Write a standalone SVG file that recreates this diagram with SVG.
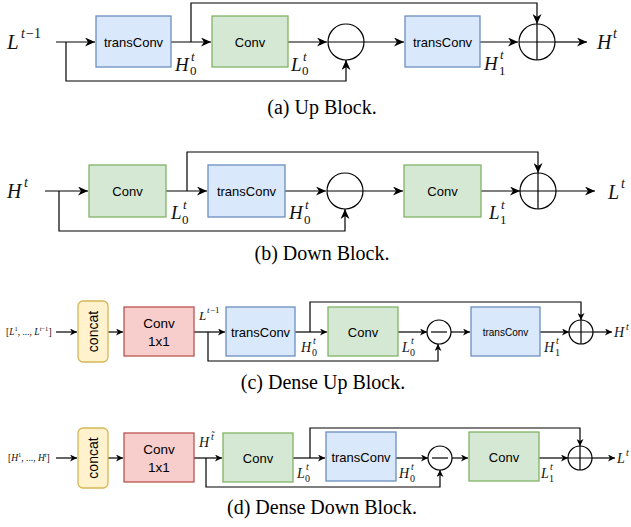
<svg xmlns="http://www.w3.org/2000/svg" width="631" height="527" viewBox="0 0 631 527">
<style>
.bx{stroke-width:1.3}
.blue{fill:#dae8fc;stroke:#6c8ebf}
.green{fill:#d5e8d4;stroke:#82b366}
.red{fill:#f8cecc;stroke:#b85450}
.yellow{fill:#fff2cc;stroke:#d6b656}
.lbl{font-family:"Liberation Sans",Arial,sans-serif;fill:#000;text-anchor:middle}
.m{font-family:"Liberation Serif","Times New Roman",serif;font-style:italic;fill:#111}
.mr{font-family:"Liberation Serif","Times New Roman",serif;fill:#111}
.cap{font-family:"Liberation Serif","Times New Roman",serif;font-size:20px;fill:#000;text-anchor:middle}
.ln{fill:none;stroke:#000;stroke-width:1.2}
.op{fill:#fff;stroke:#000;stroke-width:1.2}
</style>
<defs>
<marker id="a" markerUnits="userSpaceOnUse" markerWidth="11" markerHeight="9" refX="10" refY="4.5" orient="auto">
<path d="M0,0 L10,4.5 L0,9 L3,4.5 z" fill="#000"/>
</marker>
<marker id="s" markerUnits="userSpaceOnUse" markerWidth="8" markerHeight="7" refX="7" refY="3.5" orient="auto">
<path d="M0,0 L7,3.5 L0,7 L2,3.5 z" fill="#000"/>
</marker>
</defs>
<rect width="631" height="527" fill="#fff"/>

<!-- Connectors -->
<g id="connectors">
<!-- (a) -->
<path class="ln" d="M56,42 H95" marker-end="url(#a)"/>
<path class="ln" d="M66,42 V81 H346 V60" marker-end="url(#a)"/>
<path class="ln" d="M171,42 H211" marker-end="url(#a)"/>
<path class="ln" d="M191,42 V3 H537 V24" marker-end="url(#a)"/>
<path class="ln" d="M288,42 H327" marker-end="url(#a)"/>
<path class="ln" d="M364,42 H404" marker-end="url(#a)"/>
<path class="ln" d="M480,42 H518" marker-end="url(#a)"/>
<path class="ln" d="M555,42 H587" marker-end="url(#a)"/>
<!-- (b) -->
<path class="ln" d="M45,191 H88" marker-end="url(#a)"/>
<path class="ln" d="M59,191 V231 H345 V209" marker-end="url(#a)"/>
<path class="ln" d="M166,191 H207" marker-end="url(#a)"/>
<path class="ln" d="M187,191 V152 H538 V173" marker-end="url(#a)"/>
<path class="ln" d="M285,191 H326" marker-end="url(#a)"/>
<path class="ln" d="M363,191 H403" marker-end="url(#a)"/>
<path class="ln" d="M481,191 H520" marker-end="url(#a)"/>
<path class="ln" d="M556,191 H595" marker-end="url(#a)"/>
<!-- (c) -->
<path class="ln" d="M56,332 H77" marker-end="url(#s)"/>
<path class="ln" d="M108,332 H123" marker-end="url(#s)"/>
<path class="ln" d="M194,332 H225" marker-end="url(#s)"/>
<path class="ln" d="M208,332 V361 H438 V344" marker-end="url(#s)"/>
<path class="ln" d="M295,332 H327" marker-end="url(#s)"/>
<path class="ln" d="M310,332 V302 H581 V320" marker-end="url(#s)"/>
<path class="ln" d="M398,332 H427" marker-end="url(#s)"/>
<path class="ln" d="M451,332 H470" marker-end="url(#s)"/>
<path class="ln" d="M540,332 H569" marker-end="url(#s)"/>
<path class="ln" d="M593,332 H612" marker-end="url(#s)"/>
<!-- (d) -->
<path class="ln" d="M56,458 H77" marker-end="url(#s)"/>
<path class="ln" d="M108,458 H123" marker-end="url(#s)"/>
<path class="ln" d="M194,458 H222" marker-end="url(#s)"/>
<path class="ln" d="M206,458 V487 H440 V470" marker-end="url(#s)"/>
<path class="ln" d="M293,458 H325" marker-end="url(#s)"/>
<path class="ln" d="M310,458 V428 H580 V446" marker-end="url(#s)"/>
<path class="ln" d="M396,458 H428" marker-end="url(#s)"/>
<path class="ln" d="M452,458 H468" marker-end="url(#s)"/>
<path class="ln" d="M539,458 H568" marker-end="url(#s)"/>
<path class="ln" d="M592,458 H615" marker-end="url(#s)"/>
</g>

<!-- (a) Up Block nodes -->
<g id="a-transconv1"><rect class="bx blue" x="96" y="16" width="75" height="51"/><text class="lbl" x="133.5" y="46.5" font-size="13">transConv</text></g>
<g id="a-conv"><rect class="bx green" x="212" y="16" width="76" height="51"/><text class="lbl" x="250" y="46.5" font-size="13">Conv</text></g>
<g id="a-minus"><circle class="op" cx="346" cy="42" r="18"/><path class="ln" d="M328,42 H364"/></g>
<g id="a-transconv2"><rect class="bx blue" x="405" y="16" width="75" height="51"/><text class="lbl" x="442.5" y="46.5" font-size="13">transConv</text></g>
<g id="a-plus"><circle class="op" cx="537" cy="42" r="18"/><path class="ln" d="M519,42 H555 M537,24 V60"/></g>
<g id="a-labels">
<text class="m" x="7" y="49" font-size="21">L</text><text class="m" x="21" y="38" font-size="14">t</text><text class="mr" x="26" y="38" font-size="14">−1</text>
<text class="m" x="175" y="71" font-size="19">H</text><text class="m" x="191" y="61" font-size="13">t</text><text class="mr" x="190" y="75" font-size="13">0</text>
<text class="m" x="291" y="71" font-size="19">L</text><text class="m" x="303" y="61" font-size="13">t</text><text class="mr" x="302" y="75" font-size="13">0</text>
<text class="m" x="484" y="70" font-size="19">H</text><text class="m" x="500" y="59" font-size="13">t</text><text class="mr" x="499" y="75" font-size="13">1</text>
<text class="m" x="597" y="49" font-size="20">H</text><text class="m" x="613" y="38" font-size="14">t</text>
</g>
<text class="cap" x="322" y="114">(a) Up Block.</text>

<!-- (b) Down Block nodes -->
<g id="b-conv1"><rect class="bx green" x="89" y="165" width="77" height="52"/><text class="lbl" x="127.5" y="195.5" font-size="13">Conv</text></g>
<g id="b-transconv"><rect class="bx blue" x="208" y="165" width="77" height="52"/><text class="lbl" x="246.5" y="195.5" font-size="13">transConv</text></g>
<g id="b-minus"><circle class="op" cx="345" cy="191" r="18"/><path class="ln" d="M327,191 H363"/></g>
<g id="b-conv2"><rect class="bx green" x="404" y="165" width="77" height="52"/><text class="lbl" x="442.5" y="195.5" font-size="13">Conv</text></g>
<g id="b-plus"><circle class="op" cx="538" cy="191" r="18"/><path class="ln" d="M520,191 H556 M538,173 V209"/></g>
<g id="b-labels">
<text class="m" x="7" y="198" font-size="20">H</text><text class="m" x="24" y="187" font-size="14">t</text>
<text class="m" x="171" y="219" font-size="19">L</text><text class="m" x="183" y="209" font-size="13">t</text><text class="mr" x="182" y="224" font-size="13">0</text>
<text class="m" x="289" y="219" font-size="19">H</text><text class="m" x="305" y="209" font-size="13">t</text><text class="mr" x="304" y="224" font-size="13">0</text>
<text class="m" x="489" y="219" font-size="19">L</text><text class="m" x="501" y="209" font-size="13">t</text><text class="mr" x="500" y="224" font-size="13">1</text>
<text class="m" x="608" y="199" font-size="20">L</text><text class="m" x="621" y="188" font-size="14">t</text>
</g>
<text class="cap" x="322" y="260">(b) Down Block.</text>

<!-- (c) Dense Up Block nodes -->
<g id="c-concat"><rect class="bx yellow" x="78" y="301" width="30" height="61" rx="5"/><text class="lbl" font-size="14" transform="translate(98,331.5) rotate(-90)">concat</text></g>
<g id="c-conv1x1"><rect class="bx red" x="124" y="307" width="70" height="49"/><text class="lbl" x="159" y="328" font-size="13.5">Conv</text><text class="lbl" x="159" y="346" font-size="13.5">1x1</text></g>
<g id="c-transconv1"><rect class="bx blue" x="226" y="307" width="69" height="49"/><text class="lbl" x="260.5" y="336.5" font-size="13">transConv</text></g>
<g id="c-conv"><rect class="bx green" x="328" y="307" width="70" height="49"/><text class="lbl" x="363" y="336.5" font-size="13">Conv</text></g>
<g id="c-minus"><circle class="op" cx="439" cy="332" r="12"/><path class="ln" d="M431,332 H447"/></g>
<g id="c-transconv2"><rect class="bx blue" x="471" y="307" width="69" height="49"/><text class="lbl" x="505.5" y="335.5" font-size="10">transConv</text></g>
<g id="c-plus"><circle class="op" cx="581" cy="332" r="12"/><path class="ln" d="M569,332 H593 M581,320 V344"/></g>
<g id="c-labels">
<text class="mr" x="6" y="335" font-size="9.5">[<tspan class="m">L</tspan><tspan font-size="6.5" dy="-4">1</tspan><tspan dy="4">, ..., </tspan><tspan class="m">L</tspan><tspan font-size="6.5" dy="-4"><tspan class="m">t</tspan>−1</tspan><tspan dy="4">]</tspan></text>
<text class="m" x="199" y="320" font-size="13">L</text><text class="m" x="207" y="313" font-size="9">t</text><text class="mr" x="210" y="313" font-size="9">−1</text>
<text class="m" x="301" y="352" font-size="14">H</text><text class="m" x="313" y="344" font-size="10">t</text><text class="mr" x="312" y="356" font-size="10">0</text>
<text class="m" x="402" y="352" font-size="14">L</text><text class="m" x="411" y="344" font-size="10">t</text><text class="mr" x="410" y="356" font-size="10">0</text>
<text class="m" x="544" y="352" font-size="14">H</text><text class="m" x="556" y="344" font-size="10">t</text><text class="mr" x="555" y="356" font-size="10">1</text>
<text class="m" x="614" y="337" font-size="14">H</text><text class="m" x="626" y="330" font-size="10">t</text>
</g>
<text class="cap" x="323" y="389">(c) Dense Up Block.</text>

<!-- (d) Dense Down Block nodes -->
<g id="d-concat"><rect class="bx yellow" x="78" y="428" width="30" height="60" rx="5"/><text class="lbl" font-size="14" transform="translate(98,458) rotate(-90)">concat</text></g>
<g id="d-conv1x1"><rect class="bx red" x="124" y="433" width="70" height="49"/><text class="lbl" x="159" y="454" font-size="13.5">Conv</text><text class="lbl" x="159" y="472" font-size="13.5">1x1</text></g>
<g id="d-conv1"><rect class="bx green" x="223" y="433" width="70" height="49"/><text class="lbl" x="258" y="462.5" font-size="13">Conv</text></g>
<g id="d-transconv"><rect class="bx blue" x="326" y="432" width="70" height="49"/><text class="lbl" x="361" y="462" font-size="13">transConv</text></g>
<g id="d-minus"><circle class="op" cx="440" cy="458" r="12"/><path class="ln" d="M432,458 H448"/></g>
<g id="d-conv2"><rect class="bx green" x="469" y="432" width="70" height="49"/><text class="lbl" x="504" y="462" font-size="13">Conv</text></g>
<g id="d-plus"><circle class="op" cx="580" cy="458" r="12"/><path class="ln" d="M568,458 H592 M580,446 V470"/></g>
<g id="d-labels">
<text class="mr" x="8" y="461" font-size="9.5">[<tspan class="m">H</tspan><tspan font-size="6.5" dy="-4">1</tspan><tspan dy="4">, ..., </tspan><tspan class="m">H</tspan><tspan class="m" font-size="6.5" dy="-4">t</tspan><tspan dy="4">]</tspan></text>
<text class="m" x="199" y="447" font-size="14">H</text><text class="m" x="211" y="440" font-size="10">t̃</text>
<text class="m" x="297" y="478" font-size="14">L</text><text class="m" x="306" y="470" font-size="10">t</text><text class="mr" x="305" y="482" font-size="10">0</text>
<text class="m" x="399" y="478" font-size="14">H</text><text class="m" x="411" y="470" font-size="10">t</text><text class="mr" x="410" y="482" font-size="10">0</text>
<text class="m" x="541" y="478" font-size="14">L</text><text class="m" x="550" y="470" font-size="10">t</text><text class="mr" x="549" y="482" font-size="10">1</text>
<text class="m" x="617" y="463" font-size="14">L</text><text class="m" x="626" y="456" font-size="10">t</text>
</g>
<text class="cap" x="322" y="514">(d) Dense Down Block.</text>
</svg>
